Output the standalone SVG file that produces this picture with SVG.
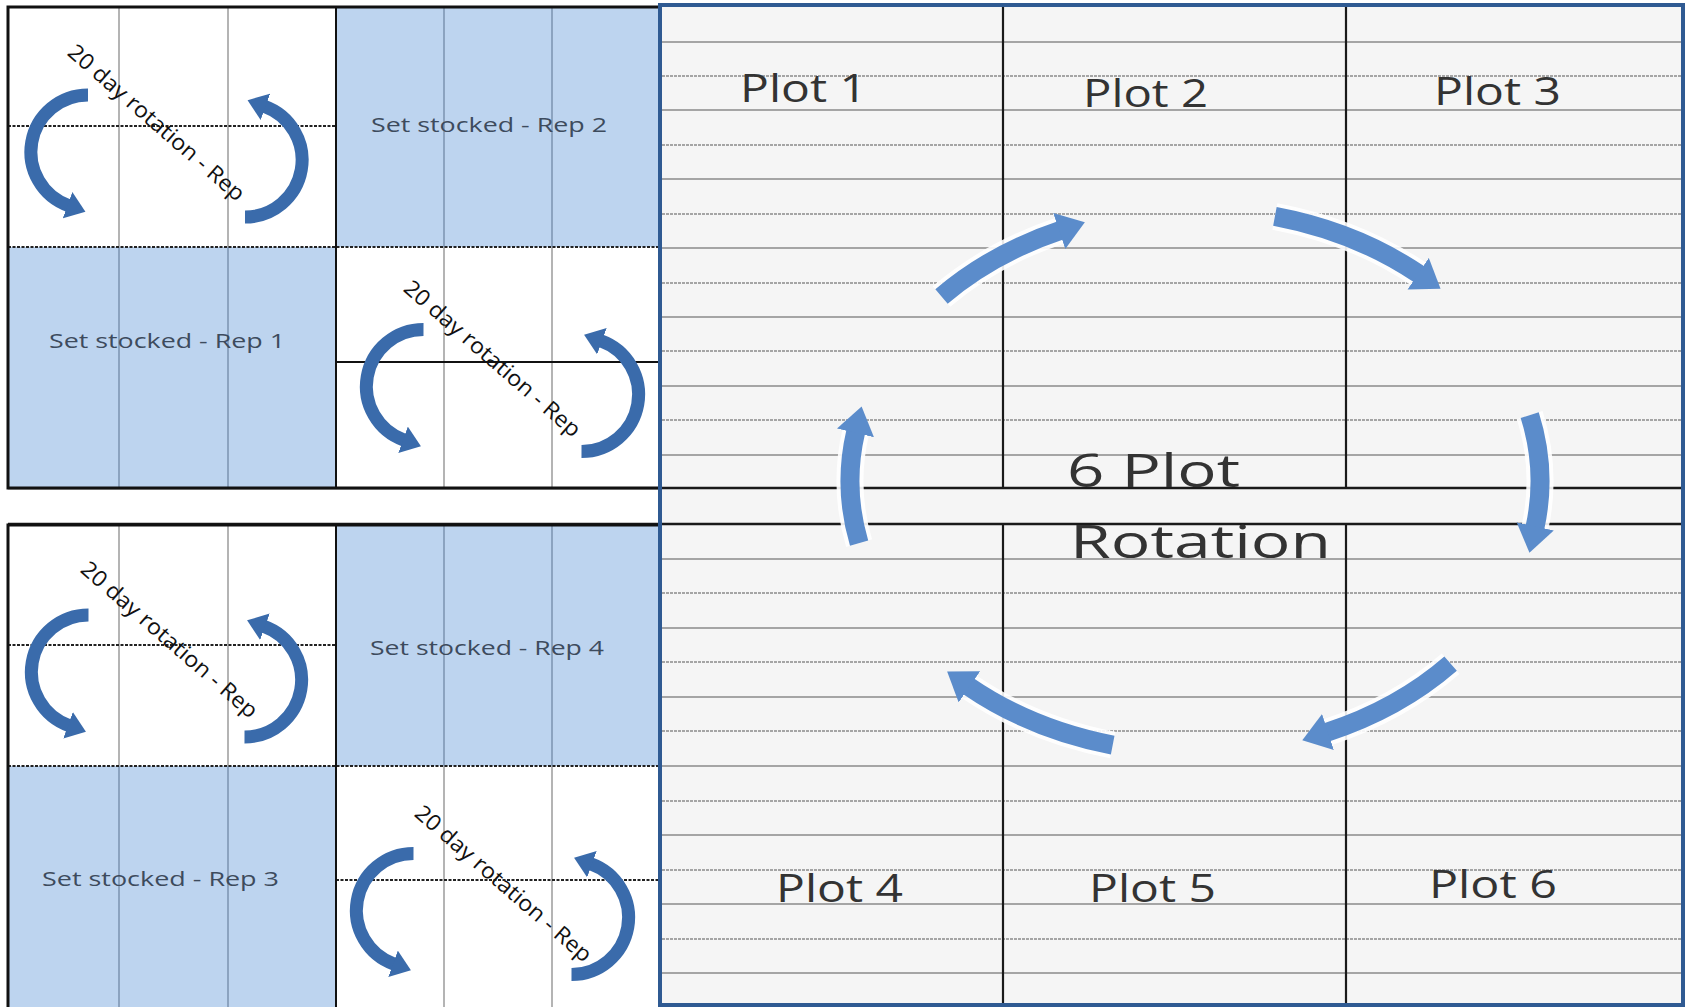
<svg xmlns="http://www.w3.org/2000/svg" width="1694" height="1007" viewBox="0 0 1694 1007">
<style>
.bg{fill:#ffffff}
.blue{fill:#bdd4ef}
.wcell{fill:#ffffff}
.vthin{stroke:#8c8c8c;stroke-width:1.3}
.vblue{stroke:#7189a6;stroke-width:1.3}
.frame{fill:none;stroke:#111;stroke-width:3}
.dash{stroke:#222;stroke-width:2;stroke-dasharray:3 1.5}
.solid{stroke:#111;stroke-width:2}
.grid{stroke:#8a8a8a;stroke-width:1.4}
.gridd{stroke:#8a8a8a;stroke-width:1.4;stroke-dasharray:3 1}
.vblack{stroke:#1a1a1a;stroke-width:2.2}
.hblack{stroke:#1a1a1a;stroke-width:2.6}
.set{font-family:"Open Sans","Liberation Sans",sans-serif;font-size:20px;fill:#3d4b5d}
.rot{font-family:"Open Sans","Liberation Sans",sans-serif;font-size:22px;fill:#111}
.plot{font-family:"Open Sans","Liberation Sans",sans-serif;font-size:38px;fill:#333}
.big{font-family:"Open Sans","Liberation Sans",sans-serif;font-size:46px;fill:#333}
.sarr{fill:none;stroke:#3a6bab;stroke-width:13}
.barr{fill:none;stroke:#5b8ccb;stroke-width:19}
.halo{fill:none;stroke:#ffffff;stroke-width:27;stroke-opacity:0.9}
</style>
<defs>
<marker id="sh" markerUnits="userSpaceOnUse" markerWidth="20" markerHeight="28" refX="1" refY="14" orient="auto">
<path d="M0,0 L19,14 L0,28 Z" fill="#3a6bab"/>
</marker>
<marker id="bh" markerUnits="userSpaceOnUse" markerWidth="30" markerHeight="40" refX="1" refY="19" orient="auto">
<path d="M0,0 L27,19 L0,38 Z" fill="#5b8ccb"/>
</marker>
</defs>
<rect x="0" y="0" width="1694" height="1007" class="bg"/>

<!-- Right plot area -->
<g id="plot-area">
<rect x="660" y="5" width="1023" height="1002" fill="#f5f5f5"/>
<g>
<line x1="662" y1="42" x2="1681" y2="42" class="grid"/>
<line x1="662" y1="76" x2="1681" y2="76" class="gridd"/>
<line x1="662" y1="110" x2="1681" y2="110" class="grid"/>
<line x1="662" y1="145" x2="1681" y2="145" class="gridd"/>
<line x1="662" y1="179" x2="1681" y2="179" class="grid"/>
<line x1="662" y1="214" x2="1681" y2="214" class="gridd"/>
<line x1="662" y1="248" x2="1681" y2="248" class="grid"/>
<line x1="662" y1="283" x2="1681" y2="283" class="gridd"/>
<line x1="662" y1="317" x2="1681" y2="317" class="grid"/>
<line x1="662" y1="351" x2="1681" y2="351" class="gridd"/>
<line x1="662" y1="386" x2="1681" y2="386" class="grid"/>
<line x1="662" y1="420" x2="1681" y2="420" class="gridd"/>
<line x1="662" y1="455" x2="1681" y2="455" class="grid"/>
<line x1="662" y1="559" x2="1681" y2="559" class="grid"/>
<line x1="662" y1="593" x2="1681" y2="593" class="gridd"/>
<line x1="662" y1="628" x2="1681" y2="628" class="grid"/>
<line x1="662" y1="662" x2="1681" y2="662" class="gridd"/>
<line x1="662" y1="697" x2="1681" y2="697" class="grid"/>
<line x1="662" y1="731" x2="1681" y2="731" class="gridd"/>
<line x1="662" y1="766" x2="1681" y2="766" class="grid"/>
<line x1="662" y1="801" x2="1681" y2="801" class="gridd"/>
<line x1="662" y1="835" x2="1681" y2="835" class="grid"/>
<line x1="662" y1="870" x2="1681" y2="870" class="gridd"/>
<line x1="662" y1="904" x2="1681" y2="904" class="grid"/>
<line x1="662" y1="939" x2="1681" y2="939" class="gridd"/>
<line x1="662" y1="973" x2="1681" y2="973" class="grid"/>
</g>
<line x1="1003" y1="5" x2="1003" y2="488" class="vblack"/>
<line x1="1346" y1="5" x2="1346" y2="488" class="vblack"/>
<line x1="1003" y1="523" x2="1003" y2="1007" class="vblack"/>
<line x1="1346" y1="523" x2="1346" y2="1007" class="vblack"/>
<line x1="8" y1="488" x2="1683" y2="488" class="hblack"/>
<line x1="8" y1="524" x2="1683" y2="524" class="hblack"/>
<rect x="660" y="5" width="1023" height="1000" fill="none" stroke="#2f5a92" stroke-width="4"/>
</g>

<!-- Left top block -->
<g id="cell-rot-a">
<rect x="8" y="7" width="328" height="240" class="wcell"/>
<line x1="119" y1="7" x2="119" y2="247" class="vthin"/>
<line x1="228" y1="7" x2="228" y2="247" class="vthin"/>
<line x1="8" y1="126" x2="336" y2="126" class="dash"/>
<text class="rot" transform="translate(156,123) rotate(41)" x="0" y="7" text-anchor="middle" textLength="226" lengthAdjust="spacingAndGlyphs">20 day rotation - Rep</text>
</g>
<g id="cell-rep2">
<rect x="336" y="7" width="324" height="240" class="blue"/>
<line x1="444" y1="7" x2="444" y2="247" class="vblue"/>
<line x1="552" y1="7" x2="552" y2="247" class="vblue"/>
<text class="set" x="371" y="132" textLength="236" lengthAdjust="spacingAndGlyphs">Set stocked - Rep 2</text>
</g>
<g id="cell-rep1">
<rect x="8" y="247" width="328" height="241" class="blue"/>
<line x1="119" y1="247" x2="119" y2="488" class="vblue"/>
<line x1="228" y1="247" x2="228" y2="488" class="vblue"/>
<text class="set" x="49" y="348" textLength="236" lengthAdjust="spacingAndGlyphs">Set stocked - Rep 1</text>
</g>
<g id="cell-rot-b">
<rect x="336" y="247" width="324" height="241" class="wcell"/>
<line x1="444" y1="247" x2="444" y2="488" class="vthin"/>
<line x1="552" y1="247" x2="552" y2="488" class="vthin"/>
<line x1="336" y1="362" x2="660" y2="362" class="solid"/>
<text class="rot" transform="translate(492,359) rotate(41)" x="0" y="7" text-anchor="middle" textLength="226" lengthAdjust="spacingAndGlyphs">20 day rotation - Rep</text>
</g>
<line x1="8" y1="247" x2="660" y2="247" class="dash"/>
<line x1="336" y1="7" x2="336" y2="488" class="solid"/>
<rect x="8" y="7" width="652" height="481" class="frame"/>

<!-- Left bottom block -->
<g id="cell-rot-c">
<rect x="8" y="525" width="328" height="241" class="wcell"/>
<line x1="119" y1="525" x2="119" y2="766" class="vthin"/>
<line x1="228" y1="525" x2="228" y2="766" class="vthin"/>
<line x1="8" y1="645" x2="336" y2="645" class="dash"/>
<text class="rot" transform="translate(169,640) rotate(41)" x="0" y="7" text-anchor="middle" textLength="226" lengthAdjust="spacingAndGlyphs">20 day rotation - Rep</text>
</g>
<g id="cell-rep4">
<rect x="336" y="525" width="324" height="241" class="blue"/>
<line x1="444" y1="525" x2="444" y2="766" class="vblue"/>
<line x1="552" y1="525" x2="552" y2="766" class="vblue"/>
<text class="set" x="370" y="655" textLength="234" lengthAdjust="spacingAndGlyphs">Set stocked - Rep 4</text>
</g>
<g id="cell-rep3">
<rect x="8" y="766" width="328" height="241" class="blue"/>
<line x1="119" y1="766" x2="119" y2="1007" class="vblue"/>
<line x1="228" y1="766" x2="228" y2="1007" class="vblue"/>
<text class="set" x="42" y="886" textLength="237" lengthAdjust="spacingAndGlyphs">Set stocked - Rep 3</text>
</g>
<g id="cell-rot-d">
<rect x="336" y="766" width="324" height="241" class="wcell"/>
<line x1="444" y1="766" x2="444" y2="1007" class="vthin"/>
<line x1="552" y1="766" x2="552" y2="1007" class="vthin"/>
<line x1="336" y1="880" x2="660" y2="880" class="dash"/>
<text class="rot" transform="translate(503,884) rotate(41)" x="0" y="7" text-anchor="middle" textLength="226" lengthAdjust="spacingAndGlyphs">20 day rotation - Rep</text>
</g>
<line x1="8" y1="766" x2="660" y2="766" class="dash"/>
<line x1="336" y1="525" x2="336" y2="1007" class="solid"/>
<rect x="8" y="525" width="652" height="484" class="frame"/>
<line x1="660" y1="5" x2="660" y2="1007" stroke="#2f5a92" stroke-width="4"/>

<!-- Plot labels -->
<g id="plot1"><text class="plot" x="740" y="102" textLength="127" lengthAdjust="spacingAndGlyphs">Plot 1</text></g>
<g id="plot2"><text class="plot" x="1083" y="107" textLength="125" lengthAdjust="spacingAndGlyphs">Plot 2</text></g>
<g id="plot3"><text class="plot" x="1434" y="105" textLength="127" lengthAdjust="spacingAndGlyphs">Plot 3</text></g>
<g id="plot4"><text class="plot" x="776" y="902" textLength="127" lengthAdjust="spacingAndGlyphs">Plot 4</text></g>
<g id="plot5"><text class="plot" x="1089" y="902" textLength="127" lengthAdjust="spacingAndGlyphs">Plot 5</text></g>
<g id="plot6"><text class="plot" x="1429" y="898" textLength="128" lengthAdjust="spacingAndGlyphs">Plot 6</text></g>
<g id="title">
<text class="big" x="1067" y="487" textLength="173" lengthAdjust="spacingAndGlyphs">6 Plot</text>
<text class="big" x="1070" y="558" textLength="261" lengthAdjust="spacingAndGlyphs">Rotation</text>
</g>

<!-- Connectors -->
<g id="connectors">
<g id="big-arrows">
<path class="halo" d="M941.5,296.5 A345,272 0 0 1 1060.2,230.6"/>
<path class="halo" d="M1274.9,216.4 A345,272 0 0 1 1419,274.2"/>
<path class="halo" d="M1529.7,415.2 A345,272 0 0 1 1535,527.3"/>
<path class="halo" d="M1450.6,663.7 A345,272 0 0 1 1327,732.3"/>
<path class="halo" d="M1112.7,745.1 A345,272 0 0 1 968.6,686.3"/>
<path class="halo" d="M859.1,543.1 A345,272 0 0 1 855.7,431.9"/>
<path class="barr" marker-end="url(#bh)" d="M941.5,296.5 A345,272 0 0 1 1060.2,230.6"/>
<path class="barr" marker-end="url(#bh)" d="M1274.9,216.4 A345,272 0 0 1 1419,274.2"/>
<path class="barr" marker-end="url(#bh)" d="M1529.7,415.2 A345,272 0 0 1 1535,527.3"/>
<path class="barr" marker-end="url(#bh)" d="M1450.6,663.7 A345,272 0 0 1 1327,732.3"/>
<path class="barr" marker-end="url(#bh)" d="M1112.7,745.1 A345,272 0 0 1 968.6,686.3"/>
<path class="barr" marker-end="url(#bh)" d="M859.1,543.1 A345,272 0 0 1 855.7,431.9"/>
</g>
<g id="small-arrows">
<path class="sarr" marker-end="url(#sh)" d="M88,95 A57,57 0 0 0 68.5,205.6"/>
<path class="sarr" marker-end="url(#sh)" d="M245,217 A57,57 0 0 0 264.5,106.4"/>
<path class="sarr" marker-end="url(#sh)" d="M423.5,329.5 A57,57 0 0 0 404,440.1"/>
<path class="sarr" marker-end="url(#sh)" d="M581.5,451.5 A57,57 0 0 0 601,340.9"/>
<path class="sarr" marker-end="url(#sh)" d="M88.5,615 A57,57 0 0 0 69,725.6"/>
<path class="sarr" marker-end="url(#sh)" d="M244.5,737 A57,57 0 0 0 264,626.4"/>
<path class="sarr" marker-end="url(#sh)" d="M413.5,853.5 A57,57 0 0 0 394,964.1"/>
<path class="sarr" marker-end="url(#sh)" d="M571.5,974.5 A57,57 0 0 0 591,863.9"/>
</g>
</g>
</svg>
